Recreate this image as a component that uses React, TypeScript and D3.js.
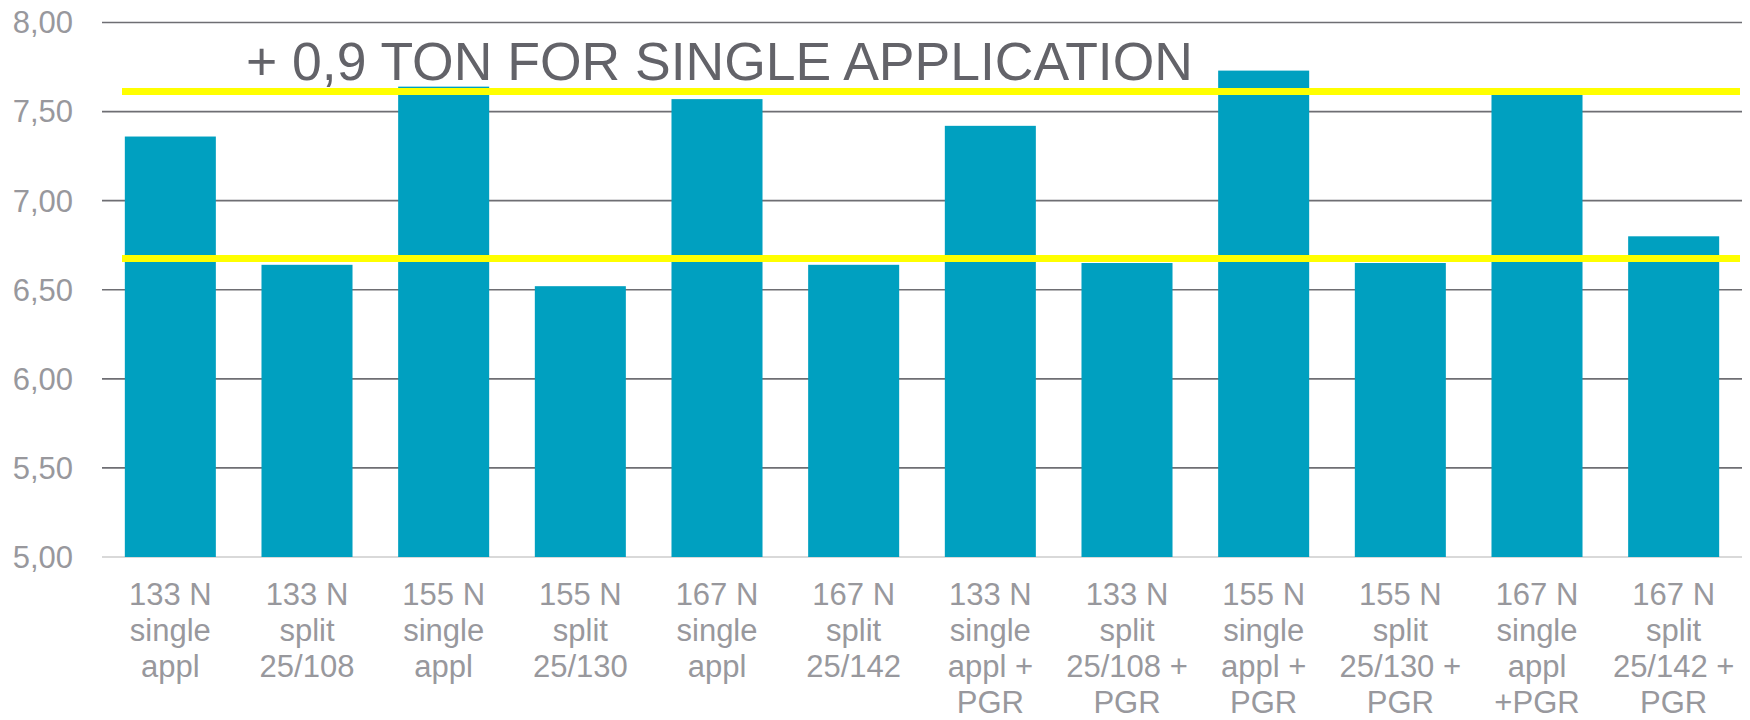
import React, { useEffect, useRef } from 'react';
import * as d3 from 'd3';

// categories (line breaks as in the original axis labels)
const categories = [
  '133 N\nsingle\nappl',
  '133 N\nsplit\n25/108',
  '155 N\nsingle\nappl',
  '155 N\nsplit\n25/130',
  '167 N\nsingle\nappl',
  '167 N\nsplit\n25/142',
  '133 N\nsingle\nappl +\nPGR',
  '133 N\nsplit\n25/108 +\nPGR',
  '155 N\nsingle\nappl +\nPGR',
  '155 N\nsplit\n25/130 +\nPGR',
  '167 N\nsingle\nappl\n+PGR',
  '167 N\nsplit\n25/142 +\nPGR',
];

const yields = [7.36, 6.64, 7.64, 6.52, 7.57, 6.64, 7.42, 6.65, 7.73, 6.65, 7.6, 6.8];

const yTicks = [5.0, 5.5, 6.0, 6.5, 7.0, 7.5, 8.0];

// reference levels (yellow lines)
const refLevels = [7.613, 6.676];

const title = '+ 0,9 TON FOR SINGLE APPLICATION';

const App = () => {
  const svgRef = useRef<SVGSVGElement>(null);

  useEffect(() => {
    const svg = d3.select(svgRef.current);
    svg.selectAll('*').remove();

    const width = 1750;
    const height = 720;
    const margin = { top: 22.5, right: 8, bottom: 163, left: 102 };
    const font = '"Liberation Sans", Arial, sans-serif';

    const x = d3.scaleBand()
      .domain(categories)
      .range([margin.left, width - margin.right])
      .paddingInner(0.334)
      .paddingOuter(0.167);

    const y = d3.scaleLinear()
      .domain([5, 8])
      .range([height - margin.bottom, margin.top]);

    // gridlines
    svg.append('g')
      .selectAll('line')
      .data(yTicks.filter(t => t > 5))
      .join('line')
      .attr('x1', margin.left)
      .attr('x2', width - margin.right)
      .attr('y1', d => y(d))
      .attr('y2', d => y(d))
      .attr('stroke', '#6e6e73')
      .attr('stroke-width', 1.6);

    // baseline
    svg.append('line')
      .attr('x1', margin.left)
      .attr('x2', width - margin.right)
      .attr('y1', y(5))
      .attr('y2', y(5))
      .attr('stroke', '#d9d9d9')
      .attr('stroke-width', 2);

    // y tick labels
    svg.append('g')
      .selectAll('text')
      .data(yTicks)
      .join('text')
      .attr('x', 73)
      .attr('y', d => y(d))
      .attr('dy', '0.35em')
      .attr('text-anchor', 'end')
      .attr('fill', '#98989d')
      .style('font-family', font)
      .style('font-size', '31px')
      .text(d => d.toFixed(2).replace('.', ','));

    // bars
    svg.append('g')
      .selectAll('rect')
      .data(yields)
      .join('rect')
      .attr('x', (d, i) => x(categories[i]) as number)
      .attr('y', d => y(d))
      .attr('width', x.bandwidth())
      .attr('height', d => y(5) - y(d))
      .attr('fill', '#00a0c0');

    // x labels
    const labels = svg.append('g')
      .selectAll('text')
      .data(categories)
      .join('text')
      .attr('x', d => (x(d) as number) + x.bandwidth() / 2)
      .attr('y', 605)
      .attr('text-anchor', 'middle')
      .attr('fill', '#98989d')
      .style('font-family', font)
      .style('font-size', '31px');

    labels.selectAll('tspan')
      .data(d => d.split('\n'))
      .join('tspan')
      .attr('x', function () {
        return (this.parentNode as SVGTextElement).getAttribute('x');
      })
      .attr('dy', (d, i) => (i === 0 ? 0 : 36))
      .text(d => d);

    // yellow reference lines
    svg.append('g')
      .selectAll('line')
      .data(refLevels)
      .join('line')
      .attr('x1', 122)
      .attr('x2', 1740)
      .attr('y1', d => y(d))
      .attr('y2', d => y(d))
      .attr('stroke', '#ffff00')
      .attr('stroke-width', 7);

    // annotation title
    svg.append('text')
      .attr('x', 246)
      .attr('y', 80)
      .attr('fill', '#636369')
      .style('font-family', font)
      .style('font-size', '53.5px')
      .text(title);
  }, []);

  return (
    <svg
      ref={svgRef}
      width="1750"
      height="720"
      style={{ position: 'absolute', left: 0, top: 0, background: '#fff' }}
    ></svg>
  );
};

export default App;
